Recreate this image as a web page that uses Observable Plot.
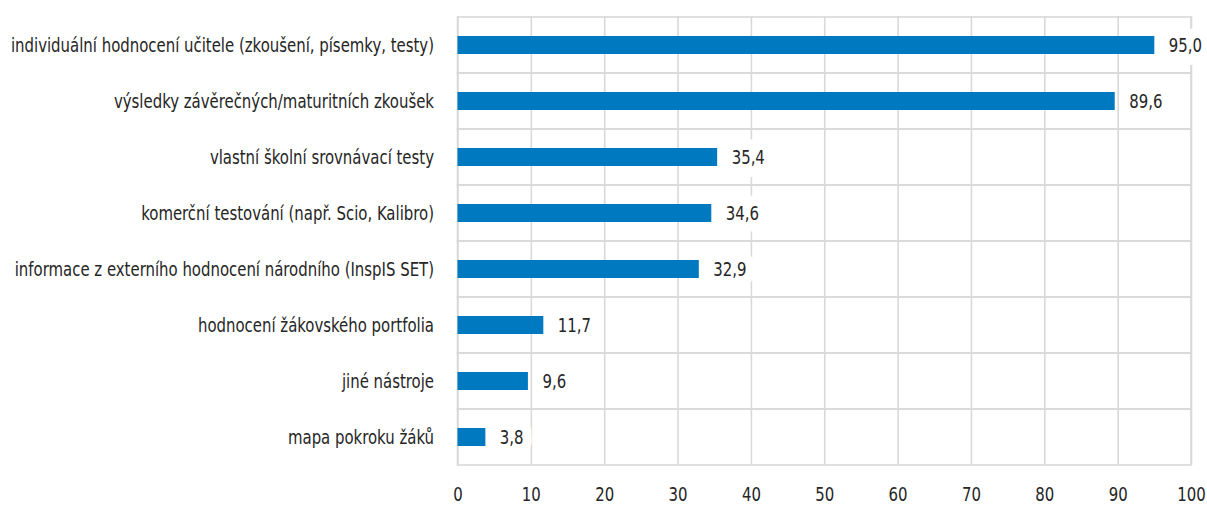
<!DOCTYPE html>
<html>
<head>
<meta charset="utf-8">
<script src="https://cdn.jsdelivr.net/npm/d3@7"></script>
<script src="https://cdn.jsdelivr.net/npm/@observablehq/plot@0.6"></script>
<style>
  html, body { margin: 0; padding: 0; background: #fff; }
  #chart svg { display: block; }
</style>
</head>
<body>
<div id="chart"></div>
<script>
const categories = [
  "individuální hodnocení učitele (zkoušení, písemky, testy)",
  "výsledky závěrečných/maturitních zkoušek",
  "vlastní školní srovnávací testy",
  "komerční testování (např. Scio, Kalibro)",
  "informace z externího hodnocení národního (InspIS SET)",
  "hodnocení žákovského portfolia",
  "jiné nástroje",
  "mapa pokroku žáků"
];
const values = [95.0, 89.6, 35.4, 34.6, 32.9, 11.7, 9.6, 3.8];
const xTicks = [0, 10, 20, 30, 40, 50, 60, 70, 80, 90, 100];

const data = categories.map((c, i) => ({category: c, value: values[i]}));
const fmt = v => v.toFixed(1).replace(".", ",");
const grid = "#d9d9d9";
const font = "'DejaVu Sans Condensed', 'DejaVu Sans', sans-serif";
const condense = 0.83;

const chart = Plot.plot({
  width: 1207,
  height: 505,
  marginLeft: 457.5,
  marginRight: 16,
  marginTop: 16,
  marginBottom: 40,
  style: {fontFamily: font, fontSize: "20px", color: "#262626", background: "#fff"},
  x: {domain: [0, 100], ticks: xTicks, label: null},
  y: {domain: categories, padding: 0, label: null},
  marks: [
    Plot.ruleX(xTicks, {stroke: grid, strokeWidth: 1.6}),
    Plot.barX(categories, {y: d => d, x1: 0, x2: 100, fill: "none", stroke: grid, strokeWidth: 1.6}),
    Plot.barX(data, {y: "category", x: "value", fill: "#0079c1", insetTop: 19, insetBottom: 19}),
    Plot.text(data, {
      y: "category", x: "value", text: d => fmt(d.value),
      dx: 14, textAnchor: "start", fill: "#262626",
      stroke: "white", strokeWidth: 22, strokeLinejoin: "round", paintOrder: "stroke",
      fontSize: 20
    }),
    Plot.axisX({ticks: xTicks, tickSize: 0, tickPadding: 21, tickFormat: d => String(d), fontSize: 20, label: null}),
    Plot.axisY({tickSize: 0, tickPadding: 24, fontSize: 20, label: null})
  ]
});
document.getElementById("chart").appendChild(chart);

// emulate the condensed typeface of the original by narrowing every text horizontally
chart.querySelectorAll("text").forEach(t => {
  const tr = t.getAttribute("transform");
  if (tr) {
    t.setAttribute("transform", tr + ` scale(${condense},1)`);
  } else {
    const x = +(t.getAttribute("x") || 0);
    t.setAttribute("transform", `translate(${x},0) scale(${condense},1) translate(${-x},0)`);
  }
});
</script>
</body>
</html>
